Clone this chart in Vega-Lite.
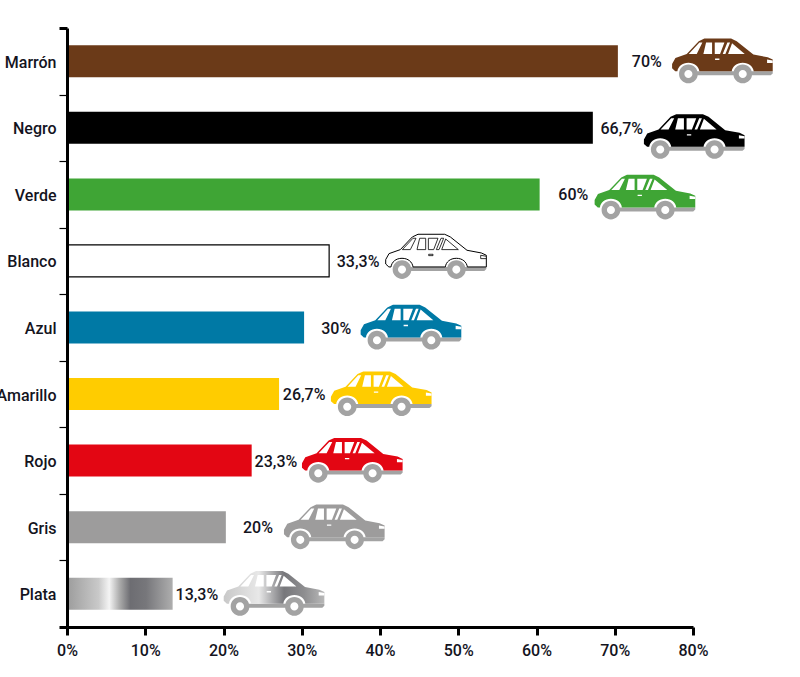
{
 "$schema": "https://vega.github.io/schema/vega-lite/v6.json",
 "width": 626,
 "height": 599,
 "autosize": {"type": "none"},
 "padding": {"left": 67, "top": 28, "right": 107, "bottom": 50},
 "background": "white",
 "config": {
  "view": {"stroke": null},
  "text": {"font": "Roboto"},
  "axis": {"labelFont": "Roboto", "labelFontSize": 16, "labelFontWeight": 500, "labelColor": "#14141e", "grid": false, "title": null, "domainColor": "black", "tickColor": "black"}
 },
 "data": {
  "values": [
   {"color": "Marrón", "value": 70.4, "label": "70%", "labelAt": 74.1, "carAt": 83.8},
   {"color": "Negro", "value": 67.2, "label": "66,7%", "labelAt": 70.9, "carAt": 80.2},
   {"color": "Verde", "value": 60.4, "label": "60%", "labelAt": 64.7, "carAt": 73.9},
   {"color": "Blanco", "value": 33.5, "label": "33,3%", "labelAt": 37.2, "carAt": 47.2},
   {"color": "Azul", "value": 30.3, "label": "30%", "labelAt": 34.4, "carAt": 44.0},
   {"color": "Amarillo", "value": 27.1, "label": "26,7%", "labelAt": 30.3, "carAt": 40.2},
   {"color": "Rojo", "value": 23.6, "label": "23,3%", "labelAt": 26.7, "carAt": 36.5},
   {"color": "Gris", "value": 20.3, "label": "20%", "labelAt": 24.4, "carAt": 34.2},
   {"color": "Plata", "value": 13.5, "label": "13,3%", "labelAt": 16.6, "carAt": 26.5}
  ]
 },
 "encoding": {
  "y": {
   "field": "color",
   "type": "nominal",
   "sort": ["Marrón", "Negro", "Verde", "Blanco", "Azul", "Amarillo", "Rojo", "Gris", "Plata"],
   "scale": {"paddingInner": 0, "paddingOuter": 0},
   "axis": {"tickBand": "extent", "tickSize": 8, "tickWidth": {"condition": {"test": "datum.value === 'Plata' || datum.extra", "value": 3}, "value": 1.2}, "domainWidth": 3, "labelPadding": 3, "labelOffset": 1, "zindex": 1}
  }
 },
 "layer": [
  {
   "transform": [{"filter": "datum.color !== 'Plata'"}],
   "mark": {"type": "bar", "size": 32},
   "encoding": {
    "x": {
     "field": "value",
     "type": "quantitative",
     "scale": {"domain": [0, 80], "nice": false},
     "axis": {"values": [0, 10, 20, 30, 40, 50, 60, 70, 80], "labelExpr": "datum.value + '%'", "tickSize": 8, "tickWidth": 3, "domainWidth": 3, "labelPadding": 7, "labelFlush": false, "zindex": 1}
    },
    "fill": {
     "field": "color",
     "type": "nominal",
     "legend": null,
     "scale": {
      "domain": ["Marrón", "Negro", "Verde", "Blanco", "Azul", "Amarillo", "Rojo", "Gris"],
      "range": ["#6b3a18", "#000000", "#3fa535", "#ffffff", "#0079a5", "#ffcc00", "#e30613", "#9d9c9c"]
     }
    },
    "stroke": {"condition": {"test": "datum.color === 'Blanco'", "value": "#000000"}, "value": null},
    "strokeWidth": {"value": 1.2}
   }
  },
  {
   "transform": [{"filter": "datum.color === 'Plata'"}],
   "mark": {
    "type": "bar",
    "size": 32,
    "fill": {
     "gradient": "linear", "x1": 0, "x2": 1, "y1": 0, "y2": 0,
     "stops": [
      {"offset": 0, "color": "#9c9c9c"},
      {"offset": 0.3, "color": "#c9c9c9"},
      {"offset": 0.4, "color": "#f4f4f4"},
      {"offset": 0.5, "color": "#aaaaaa"},
      {"offset": 0.6, "color": "#6d6d72"},
      {"offset": 0.75, "color": "#77777b"},
      {"offset": 1, "color": "#aeaeae"}
     ]
    }
   },
   "encoding": {"x": {"field": "value", "type": "quantitative"}}
  },
  {
   "mark": {"type": "text", "fontSize": 16, "fontWeight": 500, "align": "center", "baseline": "middle", "dy": 1, "color": "#14141e"},
   "encoding": {
    "x": {"field": "labelAt", "type": "quantitative"},
    "text": {"field": "label"}
   }
  },
  {
   "mark": {
    "type": "point", "filled": true, "opacity": 1, "size": 10201, "color": "#a3a3a3",
    "yOffset": {"expr": "datum.color === 'Negro' ? 9 : datum.color === 'Verde' ? 3 : datum.color === 'Blanco' ? -4 : 0"},
    "shape": "M -0.53 0.198 L 0.99 0.198 L 0.99 0.24 L 0.95 0.277 L -0.53 0.277 Z M -0.865 0.251 C -0.865 0.149 -0.782 0.066 -0.68 0.066 C -0.578 0.066 -0.495 0.149 -0.495 0.251 C -0.495 0.353 -0.578 0.436 -0.68 0.436 C -0.782 0.436 -0.865 0.353 -0.865 0.251 Z M 0.211 0.251 C 0.211 0.149 0.294 0.066 0.396 0.066 C 0.498 0.066 0.581 0.149 0.581 0.251 C 0.581 0.353 0.498 0.436 0.396 0.436 C 0.294 0.436 0.211 0.353 0.211 0.251 Z"
   },
   "encoding": {"x": {"field": "carAt", "type": "quantitative"}}
  },
  {
   "transform": [{"filter": "datum.color !== 'Plata'"}],
   "mark": {
    "type": "point", "filled": true, "opacity": 1, "size": 10201,
    "yOffset": {"expr": "datum.color === 'Negro' ? 9 : datum.color === 'Verde' ? 3 : datum.color === 'Blanco' ? -4 : 0"},
    "shape": "M -1.003 0.053 L -0.937 -0.066 L -0.713 -0.145 L -0.475 -0.396 L -0.363 -0.449 L 0.165 -0.449 L 0.277 -0.396 L 0.607 -0.132 L 0.891 -0.079 L 0.99 -0.033 L 0.99 0.198 L 0.614 0.198 C 0.6 0.1 0.52 0.027 0.396 0.027 C 0.272 0.027 0.192 0.1 0.178 0.198 L -0.462 0.198 C -0.476 0.1 -0.556 0.027 -0.68 0.027 C -0.804 0.027 -0.884 0.1 -0.898 0.198 L -0.94 0.198 L -1.003 0.14 Z"
   },
   "encoding": {
    "x": {"field": "carAt", "type": "quantitative"},
    "fill": {"field": "color", "type": "nominal", "legend": null},
    "stroke": {"condition": {"test": "datum.color === 'Blanco'", "value": "#000000"}, "value": null},
    "strokeWidth": {"value": 1}
   }
  },
  {
   "transform": [{"filter": "datum.color === 'Plata'"}],
   "mark": {
    "type": "point", "filled": true, "opacity": 1, "size": 10201,
    "fill": {
     "gradient": "linear", "x1": 0, "x2": 1, "y1": 0, "y2": 0,
     "stops": [
      {"offset": 0, "color": "#c8c8c8"},
      {"offset": 0.35, "color": "#e8e8e8"},
      {"offset": 0.6, "color": "#77777b"},
      {"offset": 0.8, "color": "#8e8e90"},
      {"offset": 1, "color": "#b8b8b8"}
     ]
    },
    "shape": "M -1.003 0.053 L -0.937 -0.066 L -0.713 -0.145 L -0.475 -0.396 L -0.363 -0.449 L 0.165 -0.449 L 0.277 -0.396 L 0.607 -0.132 L 0.891 -0.079 L 0.99 -0.033 L 0.99 0.198 L 0.614 0.198 C 0.6 0.1 0.52 0.027 0.396 0.027 C 0.272 0.027 0.192 0.1 0.178 0.198 L -0.462 0.198 C -0.476 0.1 -0.556 0.027 -0.68 0.027 C -0.804 0.027 -0.884 0.1 -0.898 0.198 L -0.94 0.198 L -1.003 0.14 Z"
   },
   "encoding": {"x": {"field": "carAt", "type": "quantitative"}}
  },
  {
   "mark": {
    "type": "point", "filled": true, "opacity": 1, "size": 10201, "fill": "#ffffff",
    "yOffset": {"expr": "datum.color === 'Negro' ? 9 : datum.color === 'Verde' ? 3 : datum.color === 'Blanco' ? -4 : 0"},
    "shape": "M -0.673 -0.145 L -0.462 -0.37 L -0.403 -0.37 L -0.515 -0.145 Z M -0.383 -0.145 L -0.33 -0.37 L -0.211 -0.37 L -0.211 -0.145 Z M -0.158 -0.145 L -0.158 -0.37 L 0.033 -0.37 L -0.053 -0.145 Z M 0 -0.145 L 0.092 -0.37 L 0.145 -0.37 L 0.053 -0.145 Z M 0.106 -0.145 L 0.185 -0.356 L 0.436 -0.145 Z M -0.152 -0.053 L -0.066 -0.053 L -0.066 -0.026 L -0.152 -0.026 Z M 0.878 -0.033 L 0.99 -0.013 L 0.99 0.033 L 0.878 0.033 Z"
   },
   "encoding": {
    "x": {"field": "carAt", "type": "quantitative"},
    "stroke": {"condition": {"test": "datum.color === 'Blanco'", "value": "#000000"}, "value": null},
    "strokeWidth": {"value": 0.8}
   }
  },
  {
   "mark": {
    "type": "point", "filled": true, "opacity": 1, "size": 10201, "fill": "#ffffff",
    "yOffset": {"expr": "datum.color === 'Negro' ? 9 : datum.color === 'Verde' ? 3 : datum.color === 'Blanco' ? -4 : 0"},
    "shape": "M -0.76 0.251 C -0.76 0.207 -0.724 0.171 -0.68 0.171 C -0.636 0.171 -0.6 0.207 -0.6 0.251 C -0.6 0.295 -0.636 0.331 -0.68 0.331 C -0.724 0.331 -0.76 0.295 -0.76 0.251 Z M 0.316 0.251 C 0.316 0.207 0.352 0.171 0.396 0.171 C 0.44 0.171 0.476 0.207 0.476 0.251 C 0.476 0.295 0.44 0.331 0.396 0.331 C 0.352 0.331 0.316 0.295 0.316 0.251 Z"
   },
   "encoding": {"x": {"field": "carAt", "type": "quantitative"}}
  }
 ]
}
